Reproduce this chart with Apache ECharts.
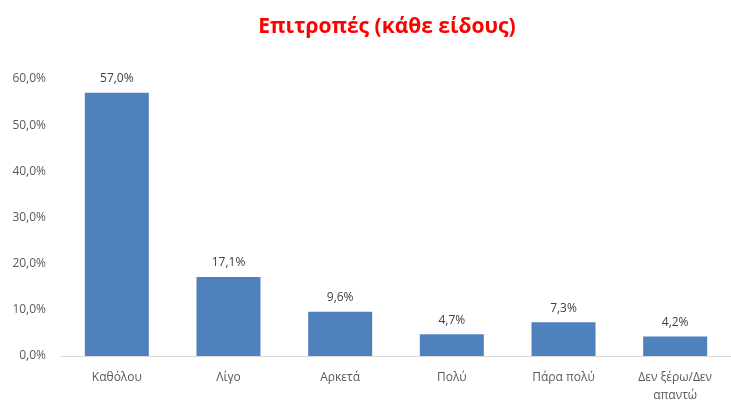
<!DOCTYPE html>
<html><head><meta charset="utf-8">
<script src="https://cdn.jsdelivr.net/npm/echarts@6/dist/echarts.min.js"></script>
<style>html,body{margin:0;padding:0;background:#fff}#c{width:731px;height:405px}</style>
</head><body><div id="c"></div>
<script>
const titleText = 'Επιτροπές (κάθε είδους)';
const categories = ['Καθόλου', 'Λίγο', 'Αρκετά', 'Πολύ', 'Πάρα πολύ', 'Δεν ξέρω/Δεν\nαπαντώ'];
const values = [57.0, 17.1, 9.6, 4.7, 7.3, 4.2];
const yTicks = [0, 10, 20, 30, 40, 50, 60];

const fmt = v => v.toFixed(1).replace('.', ',') + '%';
const font = '"Open Sans", "Noto Sans", sans-serif';
const chart = echarts.init(document.getElementById('c'), null, {renderer: 'canvas'});
chart.setOption({
  animation: false,
  backgroundColor: '#fff',
  title: {
    text: titleText, left: 382, top: 12, textAlign: 'center',
    textStyle: {color: '#FF0000', fontSize: 21, fontWeight: 'bold', fontFamily: font}
  },
  grid: {left: 61, top: 79, width: 677, bottom: 42, containLabel: false},
  xAxis: {
    type: 'category', data: categories,
    axisLine: {lineStyle: {color: '#D9D9D9', width: 1}},
    axisTick: {show: false},
    axisLabel: {color: '#595959', fontSize: 12, fontFamily: font, margin: 13, lineHeight: 18, interval: 0}
  },
  yAxis: {
    type: 'value', min: yTicks[0], max: yTicks[yTicks.length - 1], interval: 10,
    axisLine: {show: false}, axisTick: {show: false}, splitLine: {show: false},
    axisLabel: {color: '#595959', fontSize: 12, fontFamily: font, margin: 15, formatter: v => fmt(v)}
  },
  series: [{
    type: 'bar', data: values, barWidth: 64,
    itemStyle: {color: '#4F81BD'},
    label: {show: true, position: 'top', distance: 8, color: '#404040', fontSize: 12, fontFamily: font, formatter: p => fmt(p.value)}
  }]
});
</script></body></html>
